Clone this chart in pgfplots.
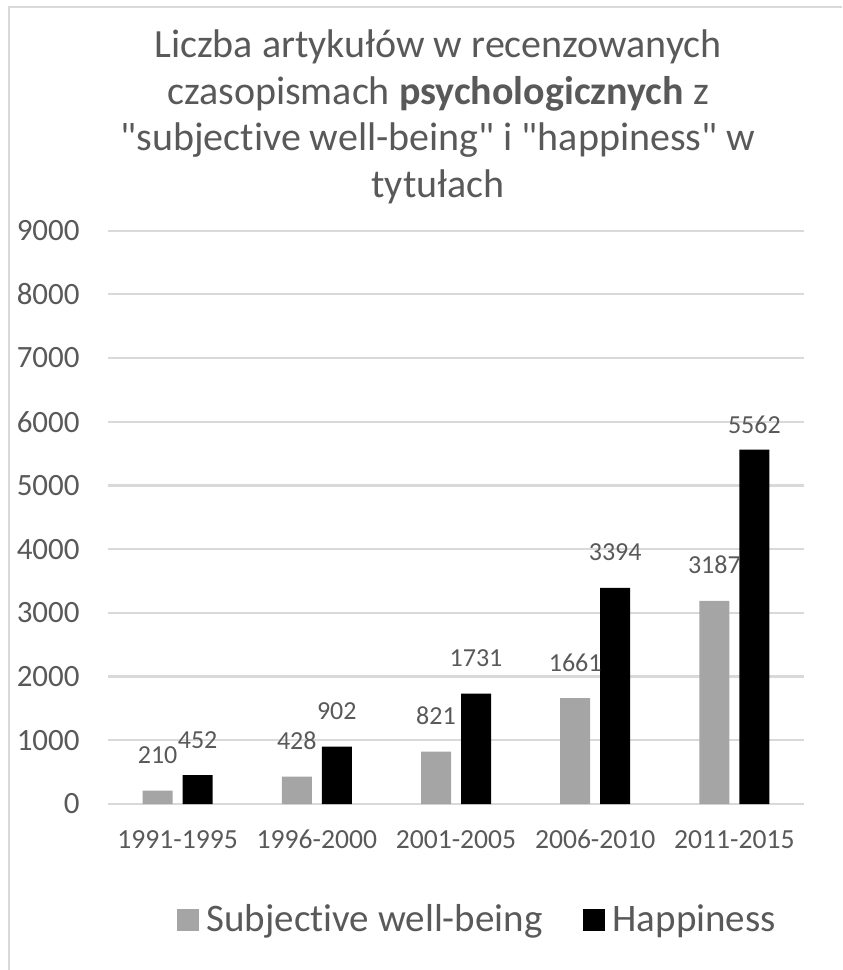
\documentclass[border=0pt]{standalone}
\usepackage{pgfplots}
\pgfplotsset{compat=1.18}
\usepackage{fontspec}
\setmainfont{Carlito}[Ligatures={TeX,NoCommon}]
\definecolor{txt}{HTML}{595959}
\definecolor{grd}{HTML}{D9D9D9}
\definecolor{swb}{HTML}{A5A5A5}
\pgfplotsset{sqlegend/.style={legend image code/.code={\fill[##1] (-2pt,-5.5pt) rectangle (9pt,5.5pt);}}}
\begin{document}
\begin{tikzpicture}
\useasboundingbox (0,0) rectangle (421pt,485pt);
\draw[grd, line width=0.9pt] (4.5pt,0) -- (4.5pt,481.5pt) -- (421pt,481.5pt);
\node[align=center, text=txt, font=\fontsize{20}{23.3}\selectfont] at (219pt,426.5pt)
  {Liczba artykułów w recenzowanych\\czasopismach \textbf{psychologicznych} z\\\textquotedbl subjective well-being\textquotedbl{} i \textquotedbl happiness\textquotedbl{} w\\tytułach};
\begin{axis}[
  at={(54pt,83pt)}, anchor=south west, scale only axis,
  width=348pt, height=286.7pt,
  ybar=5pt, bar width=15pt,
  xmin=-0.5, xmax=4.5, ymin=0, ymax=9000,
  xtick={0,1,2,3,4},
  xticklabels={1991-1995,1996-2000,2001-2005,2006-2010,2011-2015},
  ytick={0,1000,...,9000},
  scaled ticks=false,
  /pgf/number format/1000 sep={},
  /pgf/number format/assume math mode=true,
  ymajorgrids, grid style={grd, line width=1.1pt},
  axis line style={draw=none}, major tick length=0pt, tick style={draw=none},
  ticklabel style={text=txt},
  yticklabel style={font=\fontsize{15.5}{18}\selectfont, anchor=east, inner sep=0pt, xshift=-14pt},
  xticklabel style={font=\fontsize{13.8}{16}\selectfont, anchor=base, inner sep=0pt, yshift=-22pt},
  nodes near coords,
  visualization depends on={rawy \as \rawy},
  nodes near coords style={font=\fontsize{13}{15}\selectfont, text=txt, anchor=base, inner sep=0pt,
     yshift={ifthenelse(\rawy>5000,8,13.5)*1pt}},
  legend columns=2,
  legend style={at={(0.532,-0.202)}, anchor=center, draw=none, fill=none,
     font=\fontsize{19.5}{22}\selectfont, text=txt,
     /tikz/every odd column/.append style={column sep=2pt},
     /tikz/every even column/.append style={column sep=18pt}},
]
\addplot[fill=swb, draw=none, sqlegend]
  coordinates {(0,210) (1,428) (2,821) (3,1661) (4,3187)};
\addplot[fill=black, draw=none, sqlegend]
  coordinates {(0,452) (1,902) (2,1731) (3,3394) (4,5562)};
\legend{Subjective well-being, Happiness}
\end{axis}
\end{tikzpicture}
\end{document}
